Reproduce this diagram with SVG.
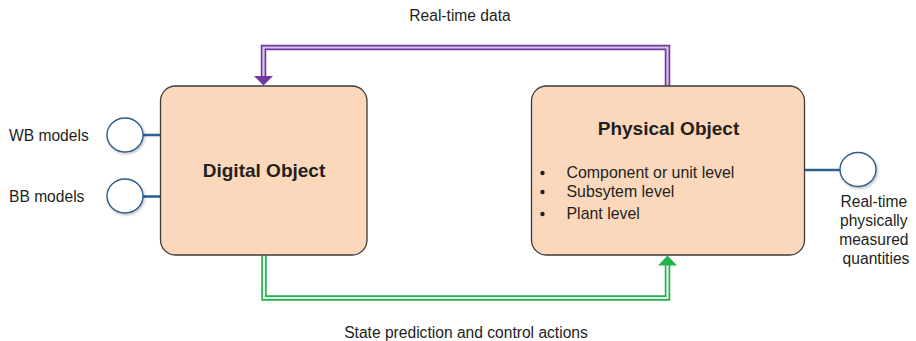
<svg xmlns="http://www.w3.org/2000/svg" width="916" height="341" viewBox="0 0 916 341">
  <defs>
    <style>
      .lbl { font-family: "Liberation Sans", Arial, sans-serif; font-size: 15.6px; fill: #231f20; }
      .item { font-family: "Liberation Sans", Arial, sans-serif; font-size: 15.9px; fill: #231f20; }
      .title { font-family: "Liberation Sans", Arial, sans-serif; font-size: 19px; font-weight: bold; fill: #231f20; }
      .box { fill: #fbd8bc; stroke: #3d3a3a; stroke-width: 1.3; }
      .port { fill: #ffffff; stroke: #2e5b8a; stroke-width: 1.4; }
      .stub { stroke: #2f5f90; stroke-width: 2.6; fill: none; }
      .pOut { stroke: #7138a0; stroke-width: 5.5; fill: none; }
      .pIn { stroke: #d6c4ea; stroke-width: 2.2; fill: none; }
      .gOut { stroke: #1fb34e; stroke-width: 5.5; fill: none; }
      .gIn { stroke: #e4f6e9; stroke-width: 2.2; fill: none; }
    </style>
    <filter id="shadow" x="-30%" y="-30%" width="160%" height="160%">
      <feDropShadow dx="1.2" dy="1.5" stdDeviation="1" flood-color="#000" flood-opacity="0.25"/>
    </filter>
  </defs>

  <!-- feedback loops between the two objects -->
  <g id="connectors">
    <path class="pOut" d="M667.5 86 V47.5 H263.5 V77"/>
    <path class="pIn" d="M667.5 86 V47.5 H263.5 V77"/>
    <polygon points="254,76 273,76 263.5,85.5" fill="#7138a0"/>

    <path class="gOut" d="M264 255.5 V298 H667.5 V265"/>
    <path class="gIn" d="M264 255.5 V298 H667.5 V265"/>
    <polygon points="658,265.5 677,265.5 667.5,255.5" fill="#1fb34e"/>

    <line class="stub" x1="143" y1="135" x2="161" y2="135"/>
    <line class="stub" x1="143" y1="196.5" x2="161" y2="196.5"/>
    <line class="stub" x1="804" y1="170" x2="840" y2="170"/>
  </g>

  <g id="label-realtime-data">
    <text class="lbl" x="460" y="21" text-anchor="middle">Real-time data</text>
  </g>
  <g id="label-state-prediction">
    <text class="lbl" x="466" y="338" text-anchor="middle">State prediction and control actions</text>
  </g>

  <g id="digital-object">
    <rect class="box" x="160.5" y="86" width="206.5" height="169" rx="15" ry="15"/>
    <text class="title" x="264" y="177" text-anchor="middle">Digital Object</text>
  </g>

  <g id="physical-object">
    <rect class="box" x="531.5" y="86" width="273" height="169" rx="15" ry="15"/>
    <text class="title" x="668.5" y="135" text-anchor="middle">Physical Object</text>
    <circle cx="542.5" cy="173" r="2.2" fill="#231f20"/>
    <circle cx="542.5" cy="192" r="2.2" fill="#231f20"/>
    <circle cx="542.5" cy="214" r="2.2" fill="#231f20"/>
    <text class="item" x="566.5" y="178">Component or unit level</text>
    <text class="item" x="566.5" y="197">Subsytem level</text>
    <text class="item" x="566.5" y="219">Plant level</text>
  </g>

  <g id="wb-models">
    <ellipse class="port" cx="125" cy="135" rx="18" ry="17" filter="url(#shadow)"/>
    <text class="lbl" x="9" y="141">WB models</text>
  </g>

  <g id="bb-models">
    <ellipse class="port" cx="125" cy="196" rx="18" ry="17" filter="url(#shadow)"/>
    <text class="lbl" x="9" y="202">BB models</text>
  </g>

  <g id="measured-quantities">
    <ellipse class="port" cx="858" cy="169.5" rx="18" ry="17" filter="url(#shadow)"/>
    <text class="lbl" text-anchor="middle">
      <tspan x="876" y="207">Real-time</tspan>
      <tspan x="876" y="226">physically</tspan>
      <tspan x="876" y="245">measured</tspan>
      <tspan x="876" y="264">quantities</tspan>
    </text>
  </g>
</svg>
